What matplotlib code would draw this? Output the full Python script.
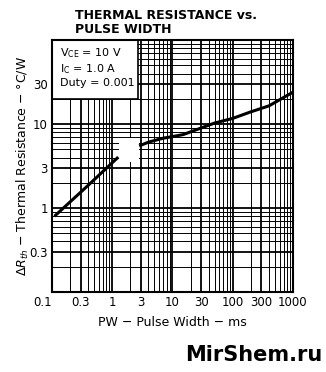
import math
import matplotlib
matplotlib.use("Agg")
import matplotlib.pyplot as plt
from matplotlib.patches import Rectangle
from matplotlib.ticker import FixedLocator, NullFormatter

# curve (pulse width in ms, thermal resistance in C/W)
pw_lo = [0.11, 0.4, 1.26]
r_lo = [0.80, 1.87, 4.05]
pw_hi = [2.8, 4, 7, 10, 15, 30, 50, 100, 200, 400, 1000]
r_hi = [5.5, 6.1, 6.8, 7.1, 7.5, 9.0, 10.3, 11.7, 14.0, 16.5, 24]

x_ticks = [0.1, 0.3, 1, 3, 10, 30, 100, 300, 1000]
x_labels = ["0.1", "0.3", "1", "3", "10", "30", "100", "300", "1000"]
y_ticks = [0.3, 1, 3, 10, 30]
y_labels = ["0.3", "1", "3", "10", "30"]

plt.rcParams["font.family"] = ["DejaVu Sans"]


def paper_lines(lo, hi):
    """Graph-paper rulings between lo and hi: (value, is_heavy)."""
    out = []
    for e in range(int(math.floor(math.log10(lo))), int(math.ceil(math.log10(hi)))):
        for m in range(1, 10):
            v = m * 10.0 ** e
            if lo < v < hi:
                out.append((v, m in (1, 3)))
    return out


fig = plt.figure(figsize=(3.26, 3.72), dpi=100)
ax = fig.add_axes([0.1595, 0.215, 0.739, 0.677])
ax.set_xscale("log")
ax.set_yscale("log")
ax.set_xlim(0.1, 1000)
ax.set_ylim(0.1, 100)

# log graph paper
for v, heavy in paper_lines(0.1, 1000):
    ax.axvline(v, color="black", lw=1.3 if heavy else 0.7, zorder=1)
for v, heavy in paper_lines(0.1, 100):
    ax.axhline(v, color="black", lw=1.3 if heavy else 0.7, zorder=1)

# conditions box and blank patch over the grid
ax.add_patch(Rectangle((0, 0.765), 0.355, 0.235, transform=ax.transAxes,
                       facecolor="white", edgecolor="black", lw=1.2, zorder=3))
ax.add_patch(Rectangle((0.278, 0.515), 0.085, 0.095, transform=ax.transAxes,
                       facecolor="white", edgecolor="none", zorder=3))
ax.text(0.035, 0.975, "V$_{\\mathregular{CE}}$ = 10 V\nI$_{\\mathregular{C}}$ = 1.0 A\nDuty = 0.001",
        transform=ax.transAxes, ha="left", va="top", fontsize=8,
        linespacing=1.2, zorder=4)

ax.plot(pw_lo, r_lo, color="black", lw=2.2, zorder=5, solid_capstyle="butt")
ax.plot(pw_hi, r_hi, color="black", lw=2.2, zorder=5, solid_capstyle="butt")

ax.xaxis.set_major_locator(FixedLocator(x_ticks))
ax.set_xticklabels(x_labels)
ax.xaxis.set_minor_formatter(NullFormatter())
ax.yaxis.set_major_locator(FixedLocator(y_ticks))
ax.set_yticklabels(y_labels)
ax.yaxis.set_minor_formatter(NullFormatter())
ax.tick_params(which="both", length=0, labelsize=8.5, pad=3)
ax.get_xticklabels()[0].set_horizontalalignment("right")
for s in ax.spines.values():
    s.set_linewidth(1.5)
    s.set_zorder(6)

ax.set_xlabel("PW \u2212 Pulse Width \u2212 ms", fontsize=9, labelpad=5)
ax.set_ylabel("$\\Delta R_{th}$ \u2212 Thermal Resistance \u2212 \u00b0C/W",
              fontsize=9, labelpad=-1)

fig.text(0.23, 0.975, "THERMAL RESISTANCE vs.\nPULSE WIDTH", ha="left", va="top",
         fontsize=9, fontweight="bold", linespacing=1.1)
fig.text(0.99, 0.02, "MirShem.ru", ha="right", va="bottom",
         fontsize=15, fontweight="bold")

fig.savefig("out.png", dpi=100, facecolor="white")
